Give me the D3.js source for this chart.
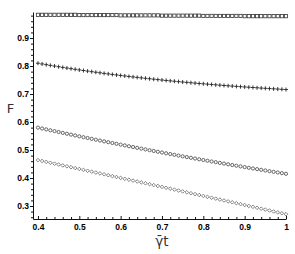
<!DOCTYPE html>
<html>
<head>
<meta charset="utf-8">
<script src="https://cdn.jsdelivr.net/npm/d3@7"></script>
<style>
  body { margin: 0; background: #fff; }
  .tick text { font-family: "Liberation Sans", Arial, sans-serif; font-weight: bold; font-size: 8.5px; fill: #000; }
  .axisLabel { font-family: "DejaVu Sans", sans-serif; fill: #333; }
</style>
</head>
<body>
<div class="chart"></div>
<script>
// gamma-bar t values (x)
var tVals = [0.40,0.41,0.42,0.43,0.44,0.45,0.46,0.47,0.48,0.49,
             0.50,0.51,0.52,0.53,0.54,0.55,0.56,0.57,0.58,0.59,
             0.60,0.61,0.62,0.63,0.64,0.65,0.66,0.67,0.68,0.69,
             0.70,0.71,0.72,0.73,0.74,0.75,0.76,0.77,0.78,0.79,
             0.80,0.81,0.82,0.83,0.84,0.85,0.86,0.87,0.88,0.89,
             0.90,0.91,0.92,0.93,0.94,0.95,0.96,0.97,0.98,0.99,1.00]

// fidelity series
var fSquares = [0.983,0.983,0.983,0.983,0.983,0.983,0.983,0.983,0.983,0.983,
                0.982,0.982,0.982,0.982,0.982,0.982,0.982,0.982,0.982,0.982,
                0.981,0.981,0.981,0.981,0.981,0.981,0.981,0.981,0.981,0.981,
                0.980,0.980,0.980,0.980,0.980,0.980,0.980,0.980,0.980,0.980,
                0.979,0.979,0.979,0.979,0.979,0.979,0.979,0.979,0.979,0.979,
                0.978,0.978,0.978,0.978,0.978,0.978,0.978,0.978,0.978,0.978,0.978]

var fPlus = [0.8100,0.8074,0.8049,0.8024,0.7999,0.7975,0.7951,0.7928,0.7906,0.7883,
             0.7861,0.7840,0.7819,0.7798,0.7778,0.7758,0.7738,0.7719,0.7700,0.7682,
             0.7664,0.7646,0.7628,0.7611,0.7595,0.7578,0.7562,0.7546,0.7530,0.7515,
             0.7500,0.7485,0.7471,0.7457,0.7443,0.7429,0.7416,0.7403,0.7390,0.7377,
             0.7365,0.7353,0.7341,0.7329,0.7317,0.7306,0.7295,0.7284,0.7273,0.7263,
             0.7253,0.7243,0.7233,0.7223,0.7213,0.7204,0.7195,0.7186,0.7177,0.7168,0.7160]

var fCircles = [0.5800,0.5768,0.5737,0.5705,0.5674,0.5643,0.5612,0.5581,0.5550,0.5520,
                0.5489,0.5459,0.5429,0.5399,0.5369,0.5339,0.5310,0.5280,0.5251,0.5222,
                0.5193,0.5164,0.5135,0.5107,0.5078,0.5050,0.5022,0.4994,0.4966,0.4938,
                0.4911,0.4883,0.4856,0.4829,0.4802,0.4775,0.4749,0.4722,0.4696,0.4669,
                0.4643,0.4617,0.4591,0.4566,0.4540,0.4515,0.4490,0.4464,0.4439,0.4415,
                0.4390,0.4365,0.4341,0.4317,0.4293,0.4269,0.4245,0.4221,0.4198,0.4174,0.4151]

var fDiamonds = [0.4640,0.4608,0.4577,0.4545,0.4513,0.4482,0.4450,0.4418,0.4387,0.4355,
                 0.4323,0.4291,0.4259,0.4228,0.4196,0.4164,0.4132,0.4100,0.4068,0.4036,
                 0.4004,0.3972,0.3940,0.3908,0.3876,0.3844,0.3812,0.3780,0.3747,0.3715,
                 0.3683,0.3651,0.3619,0.3586,0.3554,0.3522,0.3489,0.3457,0.3425,0.3392,
                 0.3360,0.3328,0.3295,0.3263,0.3230,0.3198,0.3165,0.3133,0.3100,0.3068,
                 0.3035,0.3002,0.2970,0.2937,0.2904,0.2872,0.2839,0.2806,0.2774,0.2741,0.2708]

var xTicks = [0.4, 0.5, 0.6, 0.7, 0.8, 0.9, 1]
var yTicks = [0.3, 0.4, 0.5, 0.6, 0.7, 0.8, 0.9]
var xMinor = [0.42,0.44,0.46,0.48,0.52,0.54,0.56,0.58,0.62,0.64,0.66,0.68,
              0.72,0.74,0.76,0.78,0.82,0.84,0.86,0.88,0.92,0.94,0.96,0.98]
var yMinor = [0.26,0.28,0.32,0.34,0.36,0.38,0.42,0.44,0.46,0.48,0.52,0.54,0.56,0.58,
              0.62,0.64,0.66,0.68,0.72,0.74,0.76,0.78,0.82,0.84,0.86,0.88,0.92,0.94,0.96,0.98]

var W = 295, H = 254
var margin = {top: 12, right: 9, bottom: 35, left: 33}
var width = W - margin.left - margin.right,
    height = H - margin.top - margin.bottom

var svg = d3.select('.chart').append('svg')
    .attr('width', W).attr('height', H)
var g = svg.append('g')
    .attr('transform', 'translate(' + margin.left + ',' + margin.top + ')')

var x = d3.scaleLinear().domain([0.388, 1.0]).range([0, width])
var y = d3.scaleLinear().domain([0.2536, 0.993]).range([height, 0])

// minor ticks first
g.append('g').attr('transform', 'translate(0,' + height + ')')
    .call(d3.axisBottom(x).tickValues(xMinor).tickSize(-2).tickFormat(''))
    .call(a => a.select('.domain').remove())
g.append('g')
    .call(d3.axisLeft(y).tickValues(yMinor).tickSize(2).tickFormat(''))
    .call(a => a.select('.domain').remove())

// major axes
g.append('g').attr('transform', 'translate(0,' + height + ')')
    .call(d3.axisBottom(x).tickValues(xTicks).tickSize(-3).tickSizeOuter(0).tickPadding(5)
        .tickFormat(d => d == 1 ? '1' : d3.format('.1f')(d)))
g.append('g')
    .call(d3.axisLeft(y).tickValues(yTicks).tickSize(3).tickSizeOuter(0).tickPadding(1)
        .tickFormat(d3.format('.1f')))
g.selectAll('.domain').attr('stroke', '#111')
g.selectAll('.tick line').attr('stroke', '#111')

function pts(vals) { return tVals.map((t, i) => ({t: t, f: vals[i]})) }

// squares
g.append('g').selectAll('rect').data(pts(fSquares)).join('rect')
    .attr('x', d => x(d.t) - 1.6).attr('y', d => y(d.f) - 1.6)
    .attr('width', 3.2).attr('height', 3.2)
    .attr('fill', 'none').attr('stroke', '#333').attr('stroke-width', 0.8)

// plus signs
g.append('g').selectAll('path').data(pts(fPlus)).join('path')
    .attr('transform', d => 'translate(' + x(d.t) + ',' + y(d.f) + ')')
    .attr('d', 'M-2,0H2M0,-2V2')
    .attr('fill', 'none').attr('stroke', '#222').attr('stroke-width', 0.9)

// circles
g.append('g').selectAll('circle').data(pts(fCircles)).join('circle')
    .attr('cx', d => x(d.t)).attr('cy', d => y(d.f)).attr('r', 1.6)
    .attr('fill', 'none').attr('stroke', '#444').attr('stroke-width', 0.8)

// diamonds
g.append('g').selectAll('path').data(pts(fDiamonds)).join('path')
    .attr('transform', d => 'translate(' + x(d.t) + ',' + y(d.f) + ')')
    .attr('d', 'M0,-1.8L1.8,0L0,1.8L-1.8,0Z')
    .attr('fill', 'none').attr('stroke', '#666').attr('stroke-width', 0.8)

// axis labels
svg.append('text').attr('class', 'axisLabel')
    .attr('x', 10.5).attr('y', 113).attr('text-anchor', 'middle')
    .style('font-size', '13px').text('F')
svg.append('text').attr('class', 'axisLabel')
    .attr('x', 162).attr('y', 246).attr('text-anchor', 'middle')
    .style('font-size', '13.5px').text('\u03B3\u0304t')
</script>
</body>
</html>
